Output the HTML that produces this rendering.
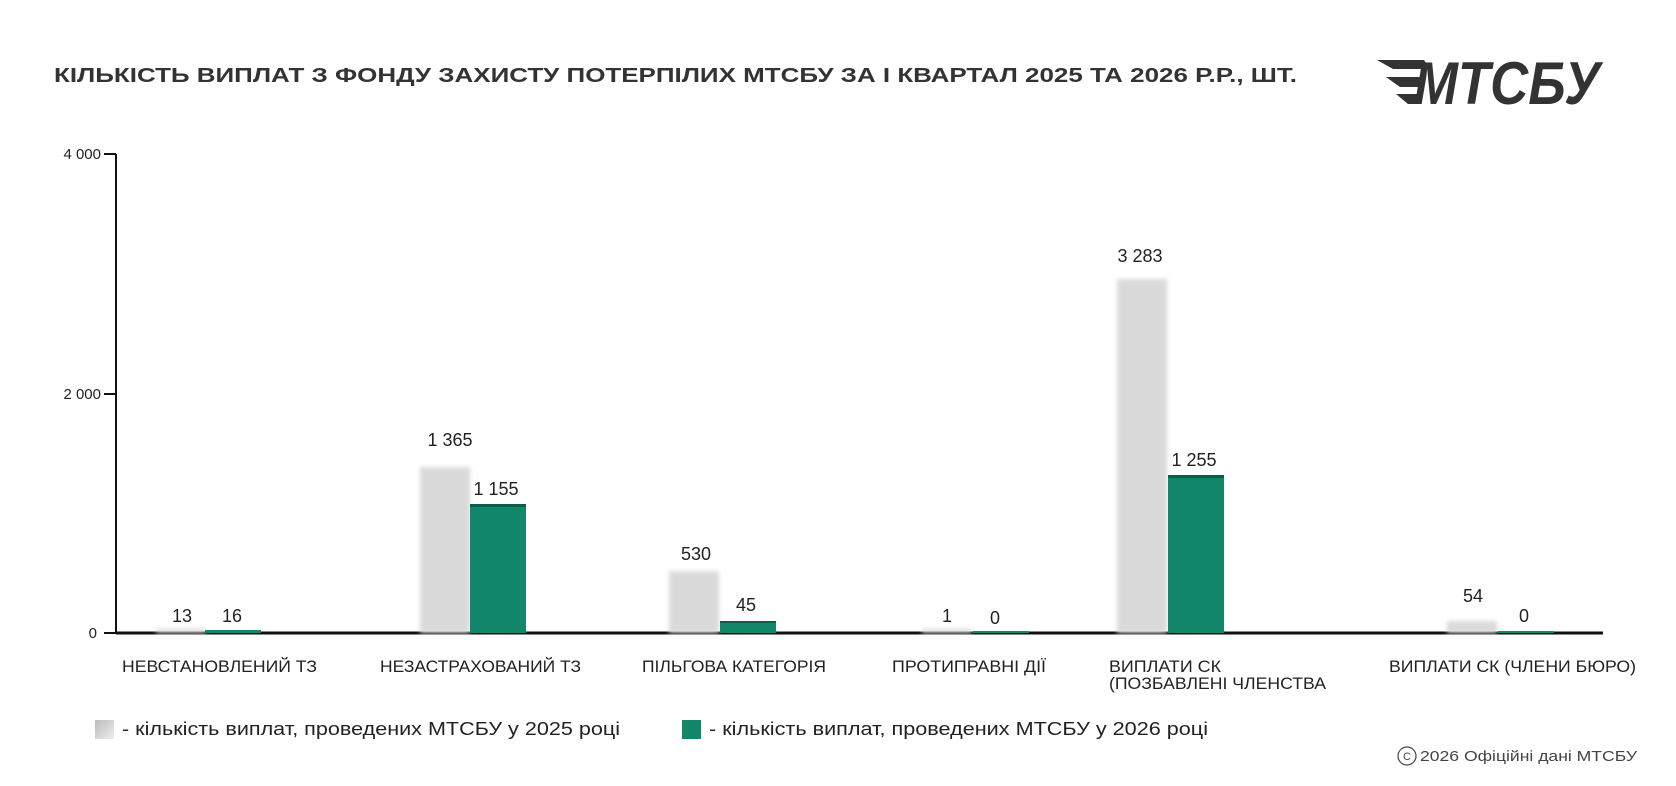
<!DOCTYPE html>
<html><head><meta charset="utf-8"><style>
html,body{margin:0;padding:0;background:#fff;}
svg{display:block;font-family:"Liberation Sans",sans-serif;}
</style></head><body>
<svg width="1676" height="786" viewBox="0 0 1676 786" xmlns="http://www.w3.org/2000/svg">
<defs>
<filter id="bl" x="-20%" y="-5%" width="140%" height="110%"><feGaussianBlur stdDeviation="2"/></filter>
<linearGradient id="lg" x1="0" y1="0" x2="1" y2="1"><stop offset="0" stop-color="#bbb"/><stop offset="1" stop-color="#eee"/></linearGradient>
</defs>
<text x="54" y="82" font-size="20" font-weight="bold" fill="#333" textLength="1243" lengthAdjust="spacingAndGlyphs">КІЛЬКІСТЬ ВИПЛАТ З ФОНДУ ЗАХИСТУ ПОТЕРПІЛИХ МТСБУ ЗА І КВАРТАЛ 2025 ТА 2026 Р.Р., ШТ.</text>
<g fill="#333">
<path d="M1377 60 L1424 60 L1430 69 L1393 69 Z"/>
<path d="M1386 77 L1426 77 L1423 87 L1400 87 Z"/>
<path d="M1396 94 L1420 94 L1417 104 L1408 104 Z"/>
<text x="1414" y="104" font-size="60" font-weight="bold" font-style="italic" textLength="186" lengthAdjust="spacingAndGlyphs">МТСБУ</text>
</g>
<line x1="116" y1="154" x2="116" y2="633" stroke="#111" stroke-width="2"/>
<line x1="116" y1="633" x2="1603" y2="633" stroke="#111" stroke-width="3"/>
<g stroke="#111" stroke-width="2"><line x1="104" y1="154" x2="116" y2="154"/><line x1="104" y1="394" x2="116" y2="394"/><line x1="104" y1="633" x2="116" y2="633"/></g>
<g font-size="15" fill="#222" text-anchor="end">
<text x="101" y="159">4 000</text><text x="101" y="399">2 000</text><text x="97" y="638">0</text>
</g>
<g fill="#dadada" filter="url(#bl)">
<rect x="156" y="629" width="50" height="4"/>
<rect x="420" y="467" width="50" height="166"/>
<rect x="669" y="571" width="50" height="62"/>
<rect x="922" y="629" width="50" height="4"/>
<rect x="1117" y="279" width="50" height="354"/>
<rect x="1447" y="621" width="50" height="12"/>
</g>
<g fill="#12876a">
<rect x="205" y="630" width="56" height="3"/>
<rect x="470" y="504" width="56" height="129"/>
<rect x="720" y="621" width="56" height="12"/>
<rect x="973" y="631" width="56" height="2"/>
<rect x="1168" y="475" width="56" height="158"/>
<rect x="1498" y="631" width="56" height="2"/>
</g>
<g fill="#0b5e47">
<rect x="470" y="504" width="56" height="3"/>
<rect x="720" y="621" width="56" height="2"/>
<rect x="1168" y="475" width="56" height="3"/>
</g>
<g font-size="18" fill="#222" text-anchor="middle">
<text x="182" y="622">13</text><text x="232" y="622">16</text>
<text x="450" y="446">1 365</text><text x="496" y="495">1 155</text>
<text x="696" y="560">530</text><text x="746" y="611">45</text>
<text x="947" y="622">1</text><text x="995" y="624">0</text>
<text x="1140" y="262">3 283</text><text x="1194" y="466">1 255</text>
<text x="1473" y="602">54</text><text x="1524" y="622">0</text>
</g>
<g font-size="17" fill="#222">
<text x="122" y="672" textLength="195" lengthAdjust="spacingAndGlyphs">НЕВСТАНОВЛЕНИЙ ТЗ</text>
<text x="380" y="672" textLength="201" lengthAdjust="spacingAndGlyphs">НЕЗАСТРАХОВАНИЙ ТЗ</text>
<text x="642" y="672" textLength="184" lengthAdjust="spacingAndGlyphs">ПІЛЬГОВА КАТЕГОРІЯ</text>
<text x="892" y="672" textLength="154" lengthAdjust="spacingAndGlyphs">ПРОТИПРАВНІ ДІЇ</text>
<text x="1109" y="672" textLength="112" lengthAdjust="spacingAndGlyphs">ВИПЛАТИ СК</text>
<text x="1109" y="689" textLength="217" lengthAdjust="spacingAndGlyphs">(ПОЗБАВЛЕНІ ЧЛЕНСТВА</text>
<text x="1389" y="672" textLength="247" lengthAdjust="spacingAndGlyphs">ВИПЛАТИ СК (ЧЛЕНИ БЮРО)</text>
</g>
<rect x="95" y="720" width="19" height="19" fill="url(#lg)"/>
<text x="122" y="735" font-size="18" fill="#222" textLength="498" lengthAdjust="spacingAndGlyphs">- кількість виплат, проведених МТСБУ у 2025 році</text>
<rect x="682" y="720" width="19" height="19" fill="#12876a"/>
<text x="709" y="735" font-size="18" fill="#222" textLength="499" lengthAdjust="spacingAndGlyphs">- кількість виплат, проведених МТСБУ у 2026 році</text>
<circle cx="1407" cy="756" r="9" fill="none" stroke="#444" stroke-width="1.2"/>
<text x="1407" y="760" font-size="11" fill="#444" text-anchor="middle">C</text>
<text x="1420" y="761" font-size="15" fill="#444" textLength="217" lengthAdjust="spacingAndGlyphs">2026 Офіційні дані МТСБУ</text>
</svg>
</body></html>
